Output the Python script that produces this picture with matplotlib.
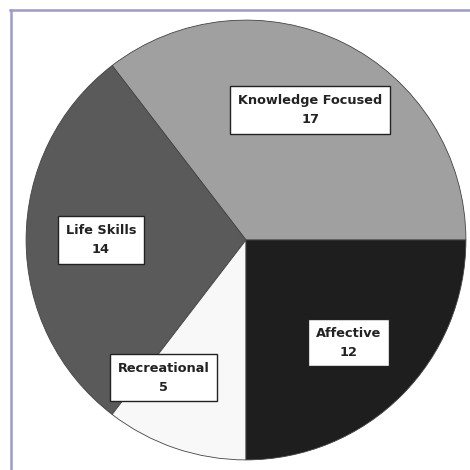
import matplotlib.pyplot as plt
import numpy as np
from matplotlib.lines import Line2D

# slice data, counterclockwise from 3 o'clock
categories = ['Knowledge Focused', 'Life Skills', 'Recreational', 'Affective']
counts = [17, 14, 5, 12]
colors = ['#a0a0a0', '#5a5a5a', '#f8f8f8', '#1e1e1e']

W = 470
fig = plt.figure(figsize=(4.7, 4.7), dpi=100)
fig.patch.set_facecolor('white')

# pie centre (246, 240) px, radius 221 px
cx, cy, r = 246, 240, 221
ax = fig.add_axes([(cx - r) / W, (W - cy - r) / W, 2 * r / W, 2 * r / W])

labels = ['%s\n%d' % (c, v) for c, v in zip(categories, counts)]
wedges, texts = ax.pie(counts, colors=colors, labels=labels, startangle=0,
                       counterclock=True, radius=1, labeldistance=0.66,
                       wedgeprops=dict(edgecolor='#444444', linewidth=0.6))

for t in texts:
    t.set_ha('center')
    t.set_va('center')
    t.set_fontsize(9.3)
    t.set_fontweight('bold')
    t.set_family('DejaVu Sans')
    t.set_color('#222222')
    t.set_linespacing(1.6)
    t.set_bbox(dict(boxstyle='square,pad=0.6', facecolor='white',
                    edgecolor='#222222', linewidth=1.0))

# recreational label sits a bit further out
ang = np.radians(239)
texts[2].set_position((0.73 * np.cos(ang), 0.73 * np.sin(ang)))

ax.set_xlim(-1.005, 1.005)
ax.set_ylim(-1.005, 1.005)
ax.set_aspect('equal')
ax.axis('off')

# lavender frame on top and left
fc = '#9c9ccc'
fig.add_artist(Line2D([10 / W, 1], [1 - 9.5 / W, 1 - 9.5 / W], color=fc, lw=1.8,
                      transform=fig.transFigure))
fig.add_artist(Line2D([10.5 / W, 10.5 / W], [0, 1 - 9.5 / W], color=fc, lw=1.8,
                      transform=fig.transFigure))

fig.savefig('out.png', dpi=100)
